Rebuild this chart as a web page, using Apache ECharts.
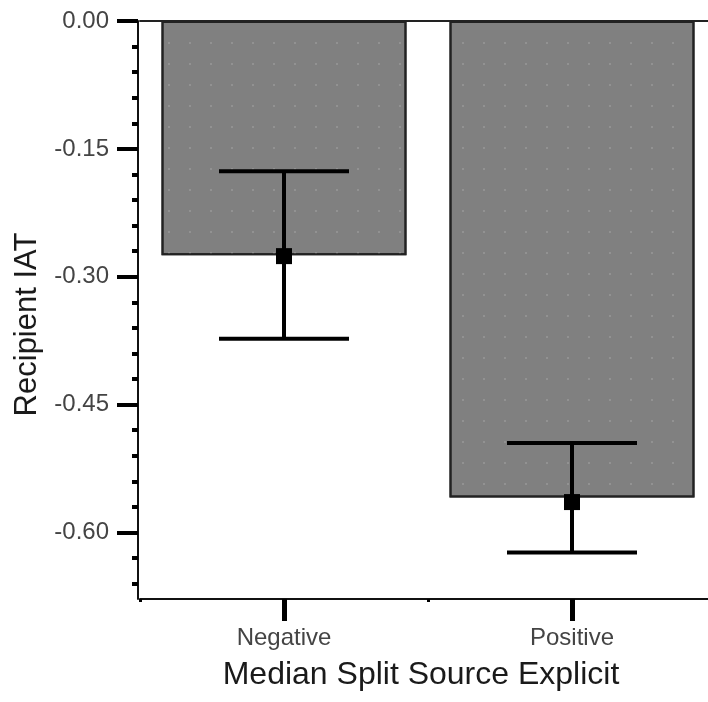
<!DOCTYPE html>
<html>
<head>
<meta charset="utf-8">
<script src="https://cdn.jsdelivr.net/npm/echarts@6/dist/echarts.min.js"></script>
<style>
html,body{margin:0;padding:0;background:#fff;overflow:hidden;width:708px;height:702px;}
#chart{width:720px;height:702px;}
</style>
</head>
<body>
<div id="chart"></div>
<script>
const categories = ['Negative', 'Positive'];
const barMeans = [-0.2747, -0.559];
const pointMeans = [-0.2758, -0.5643];
const errUpper = [-0.1763, -0.4951];
const errLower = [-0.3727, -0.6235];
const yMajorTicks = [0, -0.15, -0.30, -0.45, -0.60];
const yMinorTicks = [-0.03, -0.06, -0.09, -0.12, -0.18, -0.21, -0.24, -0.27, -0.33, -0.36, -0.39, -0.42, -0.48, -0.51, -0.54, -0.57, -0.63, -0.66];
const yMin = -0.678;
const yMax = 0;
const xTitle = 'Median Split Source Explicit';
const yTitle = 'Recipient IAT';

const FONT = "'Liberation Sans', Arial, sans-serif";
const chart = echarts.init(document.getElementById('chart'), null, {renderer: 'canvas'});

const errData = categories.map((c, i) => [i, errUpper[i], errLower[i]]);
const pointData = categories.map((c, i) => [i, pointMeans[i]]);

chart.setOption({
  animation: false,
  backgroundColor: '#fff',
  grid: {left: 140, top: 21, width: 576, height: 578, containLabel: false},
  xAxis: [
    {
      type: 'category', data: categories, position: 'bottom',
      axisLine: {show: true, onZero: false, lineStyle: {color: '#111', width: 2}},
      axisTick: {show: true, alignWithLabel: true, length: 22, lineStyle: {color: '#000', width: 5}},
      axisLabel: {show: true, margin: 27, fontSize: 24, color: '#444', fontFamily: FONT},
      splitLine: {show: false},
      name: xTitle, nameLocation: 'middle', nameGap: 60,
      nameTextStyle: {fontSize: 32, color: '#1a1a1a', fontFamily: FONT, padding: [0, 14, 0, 0]}
    },
    {
      type: 'category', data: categories, position: 'bottom',
      axisLine: {show: false, onZero: false},
      axisTick: {show: true, length: 3, lineStyle: {color: '#000', width: 3}},
      axisLabel: {show: false},
      splitLine: {show: false}
    },
    {
      type: 'category', data: categories, position: 'top',
      axisLine: {show: true, onZero: false, lineStyle: {color: '#222', width: 2}},
      axisTick: {show: false},
      axisLabel: {show: false},
      splitLine: {show: false}
    }
  ],
  yAxis: [
    {
      type: 'value', min: yMin, max: yMax, position: 'left', offset: 2,
      axisLine: {show: true, onZero: false, lineStyle: {color: '#111', width: 2}},
      axisTick: {show: true, customValues: yMajorTicks, length: 21, lineStyle: {color: '#000', width: 4}},
      axisLabel: {show: true, customValues: yMajorTicks, margin: 29, fontSize: 24, color: '#444', fontFamily: FONT,
        formatter: v => (Math.abs(v) < 1e-9 ? 0 : v).toFixed(2)},
      splitLine: {show: false},
      name: yTitle, nameLocation: 'middle', nameGap: 90, nameRotate: 90,
      nameTextStyle: {fontSize: 31, color: '#1a1a1a', fontFamily: FONT, padding: [0, 29, 0, 0]}
    },
    {
      type: 'value', min: yMin, max: yMax, position: 'left', offset: 2,
      axisLine: {show: false, onZero: false},
      axisTick: {show: true, customValues: yMinorTicks, length: 6, lineStyle: {color: '#000', width: 4}},
      axisLabel: {show: false},
      splitLine: {show: false}
    }
  ],
  series: [
    {
      type: 'bar', xAxisIndex: 0, yAxisIndex: 0,
      data: barMeans, barWidth: 245,
      itemStyle: {
        color: '#808080', borderColor: '#222', borderWidth: 2,
        decal: {symbol: 'rect', symbolSize: 1, dashArrayX: [2, 19], dashArrayY: [2, 19], color: 'rgba(150,150,150,0.8)'}
      },
      z: 2
    },
    {
      type: 'custom', xAxisIndex: 0, yAxisIndex: 0,
      data: errData,
      encode: {x: 0, y: [1, 2]},
      renderItem: function (params, api) {
        const x = api.value(0);
        const top = api.coord([x, api.value(1)]);
        const bot = api.coord([x, api.value(2)]);
        const hw = 65;
        const style = {stroke: '#000', lineWidth: 4, fill: null};
        return {
          type: 'group',
          children: [
            {type: 'line', shape: {x1: top[0], y1: top[1], x2: bot[0], y2: bot[1]}, style: style},
            {type: 'line', shape: {x1: top[0] - hw, y1: top[1], x2: top[0] + hw, y2: top[1]}, style: style},
            {type: 'line', shape: {x1: bot[0] - hw, y1: bot[1], x2: bot[0] + hw, y2: bot[1]}, style: style}
          ]
        };
      },
      z: 5
    },
    {
      type: 'scatter', xAxisIndex: 0, yAxisIndex: 0,
      data: pointData, symbol: 'rect', symbolSize: 16,
      itemStyle: {color: '#000', opacity: 1},
      z: 6
    }
  ]
});
</script>
</body>
</html>
